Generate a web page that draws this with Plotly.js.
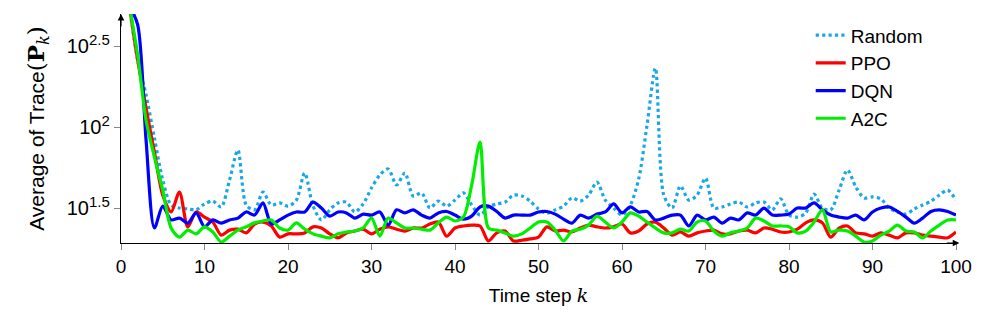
<!DOCTYPE html>
<html>
<head>
<meta charset="utf-8">
<script src="https://cdn.plot.ly/plotly-3.0.1.min.js"></script>
<style>html,body{margin:0;padding:0;background:#fff;}#chart{width:996px;height:331px;}</style>
</head>
<body>
<div id="chart"></div>
<script>
const steps = Array.from({length: 100}, (_, i) => i + 1);

const randomVals = [562, 257, 158, 85.5, 47.1, 33.0, 31.6, 31.2, 30.8, 33.5,
  34.9, 32.1, 47.1, 72.1, 33.0, 30.8, 39.7, 33.0, 34.0, 32.5,
  35.4, 52.0, 32.5, 26.7, 30.8, 34.0, 34.4, 29.9, 33.5, 42.0,
  50.6, 55.1, 43.9, 52.0, 37.5, 39.2, 31.6, 34.9, 32.5, 35.4,
  39.2, 33.0, 28.6, 32.1, 33.5, 34.4, 38.0, 37.5, 34.9, 31.2,
  29.4, 30.8, 32.5, 36.5, 34.9, 38.0, 45.7, 35.4, 31.6, 28.6,
  33.0, 47.8, 102.8, 231, 38.0, 31.6, 43.3, 35.4, 38.0, 48.4,
  31.6, 32.1, 33.5, 34.4, 32.1, 34.0, 34.4, 30.8, 36.0, 28.6,
  27.8, 29.4, 38.5, 31.6, 30.8, 40.8, 54.3, 42.7, 36.5, 37.0,
  36.0, 31.6, 29.9, 29.0, 31.2, 33.0, 34.9, 38.0, 40.8, 35.4];

const ppoVals = [562, 259, 131, 70.2, 38.0, 29.9, 39.7, 24.2, 29.9, 27.8,
  25.9, 21.5, 23.1, 23.4, 22.2, 25.2, 25.9, 24.5, 20.9, 21.9,
  21.9, 22.2, 24.2, 23.8, 21.9, 20.7, 22.2, 22.8, 23.4, 21.9,
  23.4, 24.2, 23.4, 22.8, 23.8, 23.8, 25.2, 25.9, 21.2, 23.8,
  24.5, 24.8, 24.5, 19.8, 22.2, 22.8, 19.8, 20.0, 20.4, 20.9,
  24.2, 22.8, 23.1, 22.5, 23.8, 24.8, 24.2, 23.8, 24.2, 25.2,
  22.2, 22.8, 25.2, 25.9, 23.8, 21.5, 22.5, 21.2, 22.2, 22.8,
  23.1, 21.9, 21.9, 22.8, 23.1, 22.2, 23.8, 23.4, 22.5, 22.5,
  23.4, 25.6, 26.7, 25.6, 20.9, 23.8, 24.5, 22.2, 21.9, 21.2,
  22.2, 21.5, 20.7, 22.2, 22.2, 21.5, 21.2, 20.9, 20.7, 22.5];

const dqnVals = [562, 427, 83.2, 23.8, 32.5, 26.7, 27.4, 25.5, 29.5, 24.2,
  26.7, 25.5, 26.7, 27.4, 29.9, 28.6, 34.0, 25.2, 26.7, 28.6,
  29.9, 29.9, 34.4, 31.6, 28.2, 29.9, 29.5, 27.4, 29.0, 28.6,
  29.9, 24.8, 30.8, 29.5, 30.8, 28.6, 27.4, 29.5, 30.1, 28.6,
  27.0, 28.2, 32.1, 32.5, 30.1, 27.4, 28.6, 28.6, 28.6, 29.9,
  30.1, 29.0, 27.0, 25.5, 28.6, 27.4, 29.0, 29.9, 33.5, 29.5,
  32.1, 29.9, 30.1, 26.7, 27.4, 28.6, 28.6, 24.5, 28.6, 26.7,
  27.8, 25.5, 27.4, 26.7, 29.5, 28.6, 31.6, 28.6, 28.6, 29.0,
  31.6, 31.6, 34.0, 30.8, 28.6, 27.8, 27.4, 28.6, 26.7, 29.9,
  31.6, 32.1, 30.1, 27.8, 25.5, 27.4, 30.1, 30.8, 30.1, 28.6];

const a2cVals = [562, 278, 110, 65.3, 40.8, 23.8, 20.9, 23.1, 21.9, 24.2,
  22.5, 19.5, 21.2, 23.1, 24.2, 25.6, 26.3, 26.7, 23.8, 23.1,
  25.6, 23.4, 21.9, 21.2, 20.7, 21.9, 22.5, 22.8, 23.8, 27.4,
  21.2, 27.4, 25.6, 23.8, 23.8, 23.4, 23.1, 25.6, 27.8, 26.3,
  27.8, 43.9, 80.8, 23.8, 23.1, 22.2, 21.2, 21.9, 23.8, 25.9,
  25.9, 23.1, 19.8, 22.8, 23.4, 24.8, 28.2, 25.9, 23.8, 25.9,
  29.5, 28.2, 25.9, 23.8, 22.2, 22.2, 23.4, 22.8, 25.9, 26.3,
  22.8, 21.2, 22.2, 22.8, 23.8, 27.4, 26.3, 24.5, 24.5, 24.2,
  22.2, 22.8, 25.9, 30.8, 22.5, 23.1, 22.8, 21.2, 19.5, 19.8,
  21.5, 22.8, 24.8, 22.8, 22.5, 20.7, 22.8, 24.8, 26.7, 26.7];

const xTickVals = [0, 10, 20, 30, 40, 50, 60, 70, 80, 90, 100];
const yTickVals = [31.62, 100, 316.2];
const yTickText = ['10<sup><span style="font-size:15px">1.5</span></sup>',
                   '10<sup><span style="font-size:15px">2</span></sup>',
                   '10<sup><span style="font-size:15px">2.5</span></sup>'];

const FONT = 'Liberation Sans, Arial, Helvetica, sans-serif';
const SERIF = 'DejaVu Serif';

const traces = [
  {x: steps, y: randomVals, name: 'Random', mode: 'lines',
   line: {color: '#1aa7e8', width: 3.2, dash: 'dot', shape: 'spline', smoothing: 0.8}},
  {x: steps, y: ppoVals, name: 'PPO', mode: 'lines',
   line: {color: '#ff0000', width: 3.2, shape: 'spline', smoothing: 0.8}},
  {x: steps, y: dqnVals, name: 'DQN', mode: 'lines',
   line: {color: '#0000ff', width: 3.2, shape: 'spline', smoothing: 0.8}},
  {x: steps, y: a2cVals, name: 'A2C', mode: 'lines',
   line: {color: '#00ee00', width: 3.2, shape: 'spline', smoothing: 0.8}}
];

const layout = {
  width: 996, height: 331,
  margin: {l: 121, r: 40, t: 14, b: 88},
  paper_bgcolor: '#fff', plot_bgcolor: '#fff',
  font: {family: FONT, size: 19, color: '#000'},
  showlegend: true,
  legend: {x: 0.826, y: 0.99, xanchor: 'left', yanchor: 'top',
    bgcolor: 'rgba(255,255,255,0)', borderwidth: 0,
    font: {family: FONT, size: 19, color: '#000'}, tracegroupgap: 0},
  xaxis: {
    range: [0, 100], tickvals: xTickVals, ticks: 'outside', ticklen: 6,
    tickcolor: '#888', showgrid: false, zeroline: false,
    showline: true, linecolor: '#000', linewidth: 1.2,
    tickfont: {family: FONT, size: 19},
    title: {text: 'Time step <i style="font-family:' + SERIF + '">k</i>', font: {family: FONT, size: 19}, standoff: 12}
  },
  yaxis: {
    type: 'log', range: [1.284, 2.698], tickvals: yTickVals, ticktext: yTickText,
    ticks: 'outside', ticklen: 6, tickcolor: '#888', showgrid: false, zeroline: false,
    showline: true, linecolor: '#000', linewidth: 1.2,
    tickfont: {family: FONT, size: 20},
    title: {text: 'Average of Trace<span style="font-family:' + SERIF + ';font-size:23px">(<b>P</b><sub><i>k</i></sub>)</span>',
      font: {family: FONT, size: 21}, standoff: 16}
  },
  annotations: [
    {xref: 'paper', yref: 'paper', x: 1.004, y: 0, ax: -14, ay: 0,
     showarrow: true, arrowhead: 2, arrowsize: 1.1, arrowwidth: 1.2, arrowcolor: '#000', text: ''},
    {xref: 'paper', yref: 'paper', x: 0, y: 1.0, ax: 0, ay: 14,
     showarrow: true, arrowhead: 2, arrowsize: 1.1, arrowwidth: 1.2, arrowcolor: '#000', text: ''}
  ]
};

Plotly.newPlot('chart', traces, layout, {displayModeBar: false, staticPlot: true});
</script>
</body>
</html>
